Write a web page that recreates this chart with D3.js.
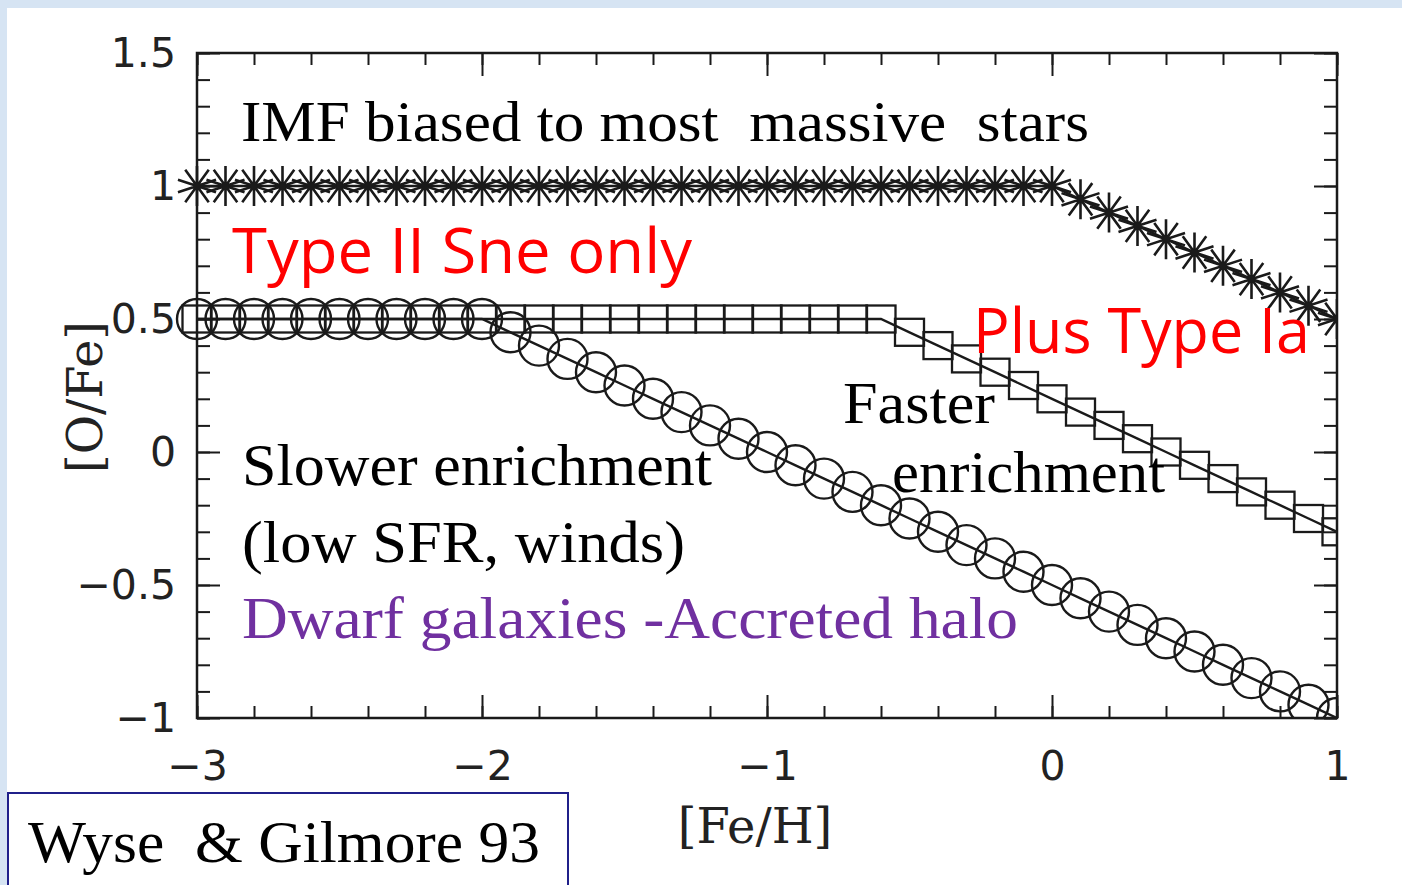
<!DOCTYPE html>
<html>
<head>
<meta charset="utf-8">
<script src="https://cdnjs.cloudflare.com/ajax/libs/d3/7.8.5/d3.min.js"></script>
<style>
  body { margin: 0; background: #d6e4f3; overflow: hidden; }
  svg { display: block; }
</style>
</head>
<body>
<div id="chart"></div>
<script>
// [Fe/H] grid of the model points
var feh = [-3.0, -2.9, -2.8, -2.7, -2.6, -2.5, -2.4, -2.3, -2.2, -2.1,
           -2.0, -1.9, -1.8, -1.7, -1.6, -1.5, -1.4, -1.3, -1.2, -1.1,
           -1.0, -0.9, -0.8, -0.7, -0.6, -0.5, -0.4, -0.3, -0.2, -0.1,
            0.0,  0.1,  0.2,  0.3,  0.4,  0.5,  0.6,  0.7,  0.8,  0.9, 1.0];

// [O/Fe] for the three models
var ofeMassive = [1, 1, 1, 1, 1, 1, 1, 1, 1, 1,
                  1, 1, 1, 1, 1, 1, 1, 1, 1, 1,
                  1, 1, 1, 1, 1, 1, 1, 1, 1, 1,
                  1, 0.95, 0.9, 0.85, 0.8, 0.75, 0.7, 0.65, 0.6, 0.55, 0.5];
var ofeFaster = [0.5, 0.5, 0.5, 0.5, 0.5, 0.5, 0.5, 0.5, 0.5, 0.5,
                 0.5, 0.5, 0.5, 0.5, 0.5, 0.5, 0.5, 0.5, 0.5, 0.5,
                 0.5, 0.5, 0.5, 0.5, 0.5, 0.45, 0.4, 0.35, 0.3, 0.25,
                 0.2, 0.15, 0.1, 0.05, 0, -0.05, -0.1, -0.15, -0.2, -0.25, -0.3];
var ofeSlower = [0.5, 0.5, 0.5, 0.5, 0.5, 0.5, 0.5, 0.5, 0.5, 0.5,
                 0.5, 0.45, 0.4, 0.35, 0.3, 0.25, 0.2, 0.15, 0.1, 0.05,
                 0, -0.05, -0.1, -0.15, -0.2, -0.25, -0.3, -0.35, -0.4, -0.45,
                 -0.5, -0.55, -0.6, -0.65, -0.7, -0.75, -0.8, -0.85, -0.9, -0.95, -1];

var xTicks = [-3, -2, -1, 0, 1];
var xTickLabels = ["\u22123", "\u22122", "\u22121", "0", "1"];
var yTicks = [-1, -0.5, 0, 0.5, 1, 1.5];
var yTickLabels = ["\u22121", "\u22120.5", "0", "0.5", "1", "1.5"];

var W = 1402, H = 885;
var ink = "#1a1a1a";

var svg = d3.select("#chart").append("svg")
    .attr("width", W)
    .attr("height", H);

// white slide panel
svg.append("rect")
    .attr("x", 7).attr("y", 8)
    .attr("width", W - 7).attr("height", H - 8)
    .attr("fill", "#ffffff");

var x = d3.scaleLinear().domain([-3, 1]).range([197, 1337]);
var y = d3.scaleLinear().domain([-1, 1.5]).range([718, 53]);

var defs = svg.append("defs");
defs.append("clipPath").attr("id", "plotclip")
    .append("rect")
    .attr("x", 0).attr("y", 0)
    .attr("width", x(1)).attr("height", y(-1));

// ---- axes (ticks inward on all four sides)
function styleAxis(g) {
    g.select(".domain").remove();
    g.selectAll(".tick line").attr("stroke", ink).attr("stroke-width", 2);
}

var minorX = x.ticks(20), minorY = y.ticks(25);

svg.append("g").attr("transform", `translate(0,${y(-1)})`)
    .call(d3.axisBottom(x).tickValues(minorX).tickSize(-12).tickFormat(""))
    .call(styleAxis);
svg.append("g").attr("transform", `translate(0,${y(-1)})`)
    .call(d3.axisBottom(x).tickValues(xTicks).tickSize(-23).tickPadding(33)
        .tickFormat((d, i) => xTickLabels[i]))
    .call(styleAxis)
    .selectAll("text")
    .attr("fill", "#222")
    .style("font", "41px 'DejaVu Sans'");

svg.append("g").attr("transform", `translate(0,${y(1.5)})`)
    .call(d3.axisTop(x).tickValues(minorX).tickSize(-12).tickFormat(""))
    .call(styleAxis);
svg.append("g").attr("transform", `translate(0,${y(1.5)})`)
    .call(d3.axisTop(x).tickValues(xTicks).tickSize(-23).tickFormat(""))
    .call(styleAxis);

svg.append("g").attr("transform", `translate(${x(-3)},0)`)
    .call(d3.axisLeft(y).tickValues(minorY).tickSize(-13).tickFormat(""))
    .call(styleAxis);
svg.append("g").attr("transform", `translate(${x(-3)},0)`)
    .call(d3.axisLeft(y).tickValues(yTicks).tickSize(-23).tickPadding(21)
        .tickFormat((d, i) => yTickLabels[i]))
    .call(styleAxis)
    .selectAll("text")
    .attr("fill", "#222")
    .style("font", "41px 'DejaVu Sans'");

svg.append("g").attr("transform", `translate(${x(1)},0)`)
    .call(d3.axisRight(y).tickValues(minorY).tickSize(-13).tickFormat(""))
    .call(styleAxis);
svg.append("g").attr("transform", `translate(${x(1)},0)`)
    .call(d3.axisRight(y).tickValues(yTicks).tickSize(-23).tickFormat(""))
    .call(styleAxis);

// frame
svg.append("rect")
    .attr("x", x(-3)).attr("y", y(1.5))
    .attr("width", x(1) - x(-3)).attr("height", y(-1) - y(1.5))
    .attr("fill", "none")
    .attr("stroke", ink)
    .attr("stroke-width", 2.5);

// ---- model curves
var plot = svg.append("g").attr("clip-path", "url(#plotclip)");
var line = d3.line().x(d => x(d[0])).y(d => y(d[1]));

function series(vals) {
    return feh.map((f, i) => [f, vals[i]]);
}

var sets = [
    { vals: ofeSlower, type: "circle" },
    { vals: ofeFaster, type: "square" },
    { vals: ofeMassive, type: "star" }
];

var starR = 20, spokes = 10;
function starPath(r) {
    var p = "";
    for (var k = 0; k < spokes / 2; k++) {
        var a = Math.PI / 2 + k * 2 * Math.PI / spokes;
        var dx = r * Math.cos(a), dy = r * Math.sin(a);
        p += `M${dx},${dy}L${-dx},${-dy}`;
    }
    return p;
}

sets.forEach(function(s) {
    var pts = series(s.vals);
    plot.append("path")
        .datum(pts)
        .attr("d", line)
        .attr("fill", "none")
        .attr("stroke", ink)
        .attr("stroke-width", 2.4);

    var m = plot.append("g")
        .selectAll("g")
        .data(pts)
        .join("g")
        .attr("transform", d => `translate(${x(d[0])},${y(d[1])})`);

    if (s.type == "circle") {
        m.append("circle").attr("r", 20)
            .attr("fill", "none").attr("stroke", ink).attr("stroke-width", 2.4);
    } else if (s.type == "square") {
        m.append("rect").attr("x", -14.5).attr("y", -13.5).attr("width", 29).attr("height", 27)
            .attr("fill", "none").attr("stroke", ink).attr("stroke-width", 2.3);
    } else {
        m.append("path").attr("d", starPath(starR))
            .attr("fill", "none").attr("stroke", ink).attr("stroke-width", 2.6);
        m.append("circle").attr("r", 3.5).attr("fill", ink);
    }
});

// ---- axis titles
svg.append("text")
    .attr("x", 755).attr("y", 843)
    .attr("text-anchor", "middle")
    .attr("fill", "#222")
    .style("font", "48px 'DejaVu Serif'")
    .text("[Fe/H]");

svg.append("text")
    .attr("transform", "translate(102,397) rotate(-90)")
    .attr("text-anchor", "middle")
    .attr("fill", "#222")
    .style("font", "48px 'DejaVu Serif'")
    .text("[O/Fe]");

// ---- annotations
var notes = [
    { t: "IMF biased to most  massive  stars", x: 241, y: 141, len: 848, c: "#000", f: "58px 'Liberation Serif'" },
    { t: "Type II Sne only", x: 232, y: 273, len: 460, c: "#ff0000", f: "63px 'Open Sans'" },
    { t: "Plus Type Ia", x: 973, y: 353, len: 337, c: "#ff0000", f: "63px 'Open Sans'" },
    { t: "Faster", x: 843, y: 423, len: 152, c: "#000", f: "60px 'Liberation Serif'" },
    { t: "enrichment", x: 892, y: 492, len: 273, c: "#000", f: "60px 'Liberation Serif'" },
    { t: "Slower enrichment", x: 242, y: 485, len: 470, c: "#000", f: "60px 'Liberation Serif'" },
    { t: "(low SFR, winds)", x: 242, y: 562, len: 443, c: "#000", f: "60px 'Liberation Serif'" },
    { t: "Dwarf galaxies -Accreted halo", x: 242, y: 638, len: 776, c: "#7030a0", f: "60px 'Liberation Serif'" }
];

svg.append("g").selectAll("text")
    .data(notes)
    .join("text")
    .attr("x", d => d.x)
    .attr("y", d => d.y)
    .attr("fill", d => d.c)
    .attr("textLength", d => d.len)
    .attr("lengthAdjust", "spacingAndGlyphs")
    .style("font", d => d.f)
    .style("white-space", "pre")
    .text(d => d.t);

// ---- reference box
svg.append("rect")
    .attr("x", 8).attr("y", 793)
    .attr("width", 560).attr("height", 110)
    .attr("fill", "#ffffff")
    .attr("stroke", "#20208a")
    .attr("stroke-width", 2);

svg.append("text")
    .attr("x", 28).attr("y", 862)
    .attr("textLength", 512)
    .attr("lengthAdjust", "spacingAndGlyphs")
    .attr("fill", "#000")
    .style("font", "60px 'Liberation Serif'")
    .style("white-space", "pre")
    .text("Wyse  & Gilmore 93");
</script>
</body>
</html>
